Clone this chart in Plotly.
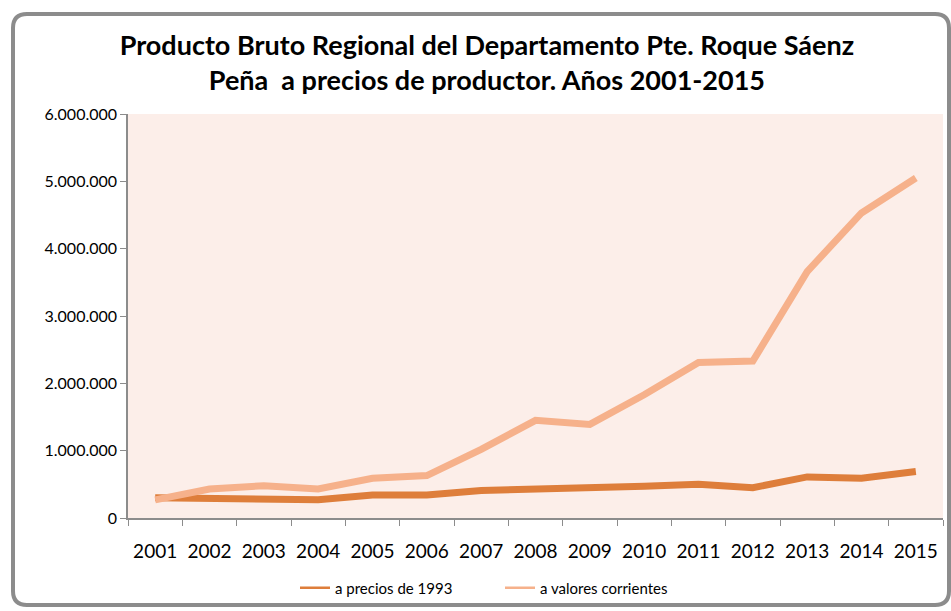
import plotly.graph_objects as go

years = [str(y) for y in range(2001, 2016)]
precios_1993 = [300000, 290000, 290000, 270000, 340000, 340000, 410000, 430000, 430000,
                470000, 500000, 450000, 610000, 590000, 690000]
valores_corrientes = [270000, 430000, 480000, 430000, 590000, 630000, 1020000, 1450000, 1390000,
                      1830000, 2310000, 2330000, 3660000, 4530000, 5050000]
y_ticks = [0, 1000000, 2000000, 3000000, 4000000, 5000000, 6000000]
y_ticktext = ["0", "1.000.000", "2.000.000", "3.000.000", "4.000.000", "5.000.000", "6.000.000"]
names = ["a precios de 1993", "a valores corrientes"]
colors = ["#DE7E3B", "#F6B18B"]

W, H = 951, 611
L, R, T, B = 128, 943, 114, 518

def px(x):
    return (x - L) / (R - L)

def py(y):
    return (B - y) / (B - T)

fig = go.Figure()
for vals, nm, c in [(precios_1993, names[0], colors[0]), (valores_corrientes, names[1], colors[1])]:
    fig.add_trace(go.Scatter(x=years, y=vals, mode="lines", name=nm, showlegend=False,
                             line=dict(color=c, width=7)))
# legend entries with thin line samples
for nm, c in zip(names, colors):
    fig.add_trace(go.Scatter(x=[years[0]], y=[None], mode="lines", name=nm, showlegend=True,
                             line=dict(color=c, width=2.5)))

# rounded frame
x0, x1, y0, y1, r = 13, 949, 14, 605, 14
path = (f"M {px(x0+r)} {py(y0)} L {px(x1-r)} {py(y0)} "
        f"Q {px(x1)} {py(y0)} {px(x1)} {py(y0+r)} "
        f"L {px(x1)} {py(y1-r)} Q {px(x1)} {py(y1)} {px(x1-r)} {py(y1)} "
        f"L {px(x0+r)} {py(y1)} Q {px(x0)} {py(y1)} {px(x0)} {py(y1-r)} "
        f"L {px(x0)} {py(y0+r)} Q {px(x0)} {py(y0)} {px(x0+r)} {py(y0)} Z")
fig.add_shape(type="path", path=path, xref="paper", yref="paper",
              line=dict(color="#8C8C8C", width=4), fillcolor="rgba(0,0,0,0)", layer="below")

fnt = "Lato, Liberation Sans, sans-serif"
fig.update_layout(
    width=W, height=H,
    margin=dict(l=L, r=W - R, t=T, b=H - B, autoexpand=False),
    paper_bgcolor="white",
    plot_bgcolor="#FCEEE9",
    title=dict(text="<b>Producto Bruto Regional del Departamento Pte. Roque Sáenz<br>Peña  a precios de productor. Años 2001-2015</b>",
               x=0.512, xanchor="center", y=1 - 55 / H, yanchor="top",
               font=dict(family=fnt, size=27, color="black")),
    showlegend=True,
    legend=dict(orientation="h", x=px(295), xanchor="left", y=py(588), yanchor="middle",
                font=dict(family=fnt, size=15, color="black"),
                bgcolor="rgba(0,0,0,0)", entrywidth=160, entrywidthmode="pixels"),
    font=dict(family=fnt, color="black"),
)
fig.update_xaxes(type="category", showgrid=False, showline=True, linecolor="#8C8C8C", linewidth=1.5,
                 ticks="outside", tickson="boundaries", ticklen=6, tickcolor="#8C8C8C",
                 tickfont=dict(family=fnt, size=19, color="black"), ticklabelstandoff=15,
                 range=[-0.5, 14.5])
fig.update_yaxes(range=[0, 6000000], tickvals=y_ticks, ticktext=y_ticktext, showgrid=False,
                 showline=True, linecolor="#8C8C8C", linewidth=1.5, ticks="outside", ticklen=6,
                 tickcolor="#8C8C8C", tickfont=dict(family=fnt, size=16, color="black"),
                 zeroline=False)

fig.write_html("out.html", config={"displayModeBar": False},
               post_script="document.body.style.margin='0';")
